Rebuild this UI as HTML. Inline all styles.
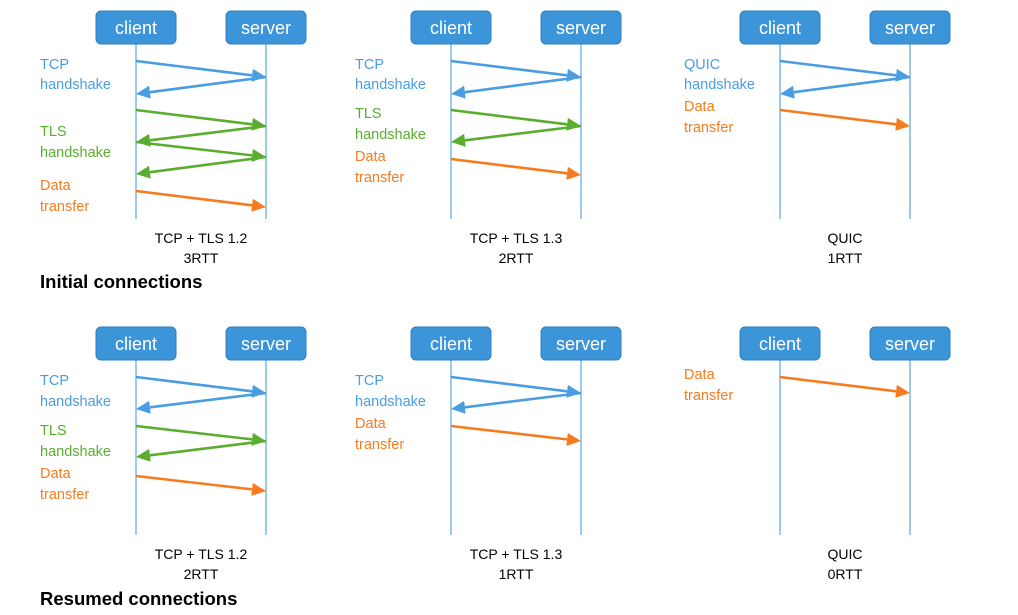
<!DOCTYPE html>
<html><head><meta charset="utf-8"><style>
html,body{margin:0;padding:0;background:#fff;}
svg{display:block;}
text{font-family:"Liberation Sans",sans-serif;}
</style></head><body>
<svg width="1018" height="615" viewBox="0 0 1018 615" xmlns="http://www.w3.org/2000/svg">
<g id="all"></g>
</svg>
<script>
const svg=document.getElementById('all');
const C={b:'#4a9de0',g:'#5aad2e',o:'#f67b1e'};
let h='';
function line(x1,y1,x2,y2,c){
  const dx=x2-x1,dy=y2-y1,L=Math.hypot(dx,dy),ux=dx/L,uy=dy/L;
  const bx=x2-ux*14,by=y2-uy*14,px=-uy*6.5,py=ux*6.5;
  h+=`<line x1="${x1}" y1="${y1}" x2="${bx}" y2="${by}" stroke="${c}" stroke-width="2.6"/>`;
  h+=`<polygon points="${x2},${y2} ${bx+px},${by+py} ${bx-px},${by-py}" fill="${c}"/>`;
}
function panel(ox,oy,arrows,labels,cap1,cap2,lifeEnd){
  const cl=ox+136,sv=ox+266;
  h+=`<line x1="${cl}" y1="${oy+44}" x2="${cl}" y2="${lifeEnd}" stroke="#5aa8e0" stroke-width="1.2"/>`;
  h+=`<line x1="${sv}" y1="${oy+44}" x2="${sv}" y2="${lifeEnd}" stroke="#5aa8e0" stroke-width="1.2"/>`;
  [[cl,'client'],[sv,'server']].forEach(([x,t])=>{
    h+=`<rect x="${x-40}" y="${oy+11}" width="80" height="33" rx="5" fill="#3d95d9" stroke="#2f7fc0" stroke-width="1"/>`;
    h+=`<text x="${x}" y="${oy+34}" font-size="18" fill="#fff" text-anchor="middle">${t}</text>`;
  });
  arrows.forEach(a=>{const [c,ys]=a;for(let i=0;i<ys.length-1;i++){const toServer=i%2==0;line(toServer?cl:sv,oy+ys[i],toServer?sv:cl,oy+ys[i+1],C[c]);}});
  labels.forEach(([t,y,c])=>{h+=`<text x="${ox+40}" y="${oy+y+5}" font-size="14.5" fill="${C[c]}">${t}</text>`;});
  h+=`<text x="${ox+201}" y="${oy+243}" font-size="14" fill="#000" text-anchor="middle">${cap1}</text>`;
  h+=`<text x="${ox+201}" y="${oy+263}" font-size="14" fill="#000" text-anchor="middle">${cap2}</text>`;
}
panel(0,0,[['b',[61,77,94]],['g',[110,126,142,157,174]],['o',[191,207]]],
 [['TCP',64,'b'],['handshake',84,'b'],['TLS',131,'g'],['handshake',152,'g'],['Data',185,'o'],['transfer',206,'o']],'TCP + TLS 1.2','3RTT',219);
panel(315,0,[['b',[61,77,94]],['g',[110,126,142]],['o',[159,175]]],
 [['TCP',64,'b'],['handshake',84,'b'],['TLS',113,'g'],['handshake',134,'g'],['Data',156,'o'],['transfer',177,'o']],'TCP + TLS 1.3','2RTT',219);
panel(644,0,[['b',[61,77,94]],['o',[110,126]]],
 [['QUIC',64,'b'],['handshake',84,'b'],['Data',106,'o'],['transfer',127,'o']],'QUIC','1RTT',219);
panel(0,316,[['b',[61,77,93]],['g',[110,125,141]],['o',[160,175]]],
 [['TCP',64,'b'],['handshake',85,'b'],['TLS',114,'g'],['handshake',135,'g'],['Data',157,'o'],['transfer',178,'o']],'TCP + TLS 1.2','2RTT',535);
panel(315,316,[['b',[61,77,93]],['o',[110,125]]],
 [['TCP',64,'b'],['handshake',85,'b'],['Data',107,'o'],['transfer',128,'o']],'TCP + TLS 1.3','1RTT',535);
panel(644,316,[['o',[61,77]]],
 [['Data',58,'o'],['transfer',79,'o']],'QUIC','0RTT',535);
h+=`<text x="40" y="288" font-size="18.5" font-weight="bold" fill="#000">Initial connections</text>`;
h+=`<text x="40" y="605" font-size="18.5" font-weight="bold" fill="#000">Resumed connections</text>`;
svg.innerHTML=h;
</script>
</body></html>
